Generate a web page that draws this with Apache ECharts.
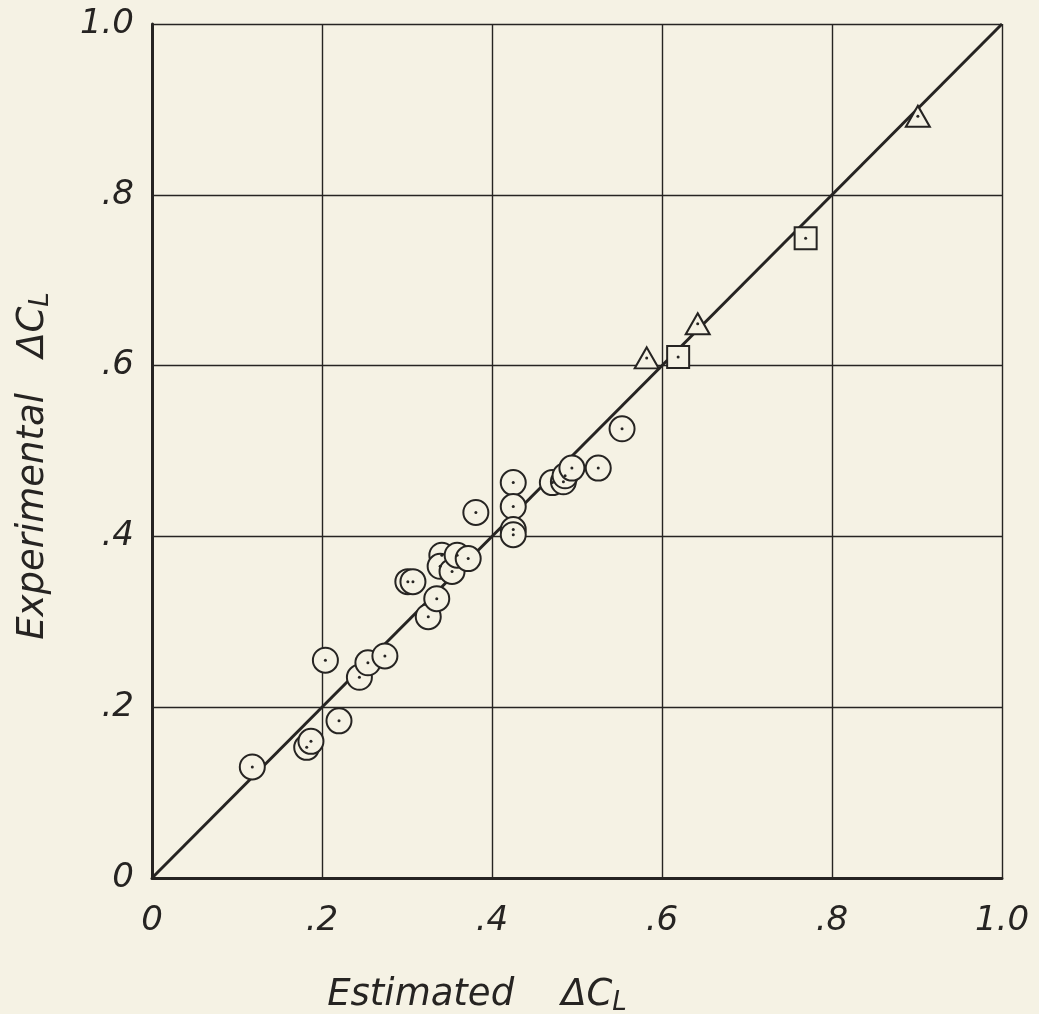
<!DOCTYPE html>
<html>
<head>
<meta charset="utf-8">
<script src="https://cdn.jsdelivr.net/npm/echarts@6/dist/echarts.min.js"></script>
<style>
  html, body { margin: 0; padding: 0; background: #f5f2e4; }
  #chart { width: 1039px; height: 1014px; }
</style>
</head>
<body>
<div id="chart"></div>
<script>
// tick values and their printed labels
const ticks = [0, 0.2, 0.4, 0.6, 0.8, 1.0]
const tickLabels = ['0', '.2', '.4', '.6', '.8', '1.0']

// circle points (estimated, experimental)
const circleX = [0.118, 0.182, 0.187, 0.220, 0.204, 0.244, 0.254, 0.274, 0.325, 0.335,
  0.301, 0.307, 0.341, 0.339, 0.353, 0.359, 0.372, 0.381, 0.425, 0.425,
  0.425, 0.425, 0.471, 0.484, 0.486, 0.494, 0.525, 0.553]
const circleY = [0.130, 0.153, 0.160, 0.184, 0.255, 0.235, 0.252, 0.260, 0.306, 0.327,
  0.347, 0.347, 0.378, 0.365, 0.359, 0.378, 0.374, 0.428, 0.463, 0.435,
  0.408, 0.402, 0.463, 0.464, 0.471, 0.480, 0.480, 0.526]

// square points
const squareX = [0.619, 0.769]
const squareY = [0.610, 0.749]

// triangle points
const triangleX = [0.582, 0.642, 0.901]
const triangleY = [0.609, 0.649, 0.892]

// line of perfect agreement
const lineX = [0, 1]
const lineY = [0, 1]

const bg = '#f5f2e4'
const ink = '#262422'

const pairs = (xs, ys) => xs.map((x, i) => [x, ys[i]])
const circles = pairs(circleX, circleY)
const squares = pairs(squareX, squareY)
const triangles = pairs(triangleX, triangleY)
const dots = circles.concat(squares, triangles)

const labelFont = {
  color: ink,
  fontFamily: 'DejaVu Sans',
  fontStyle: 'italic',
  fontSize: 34,
}
const nameRich = {
  sub: { fontFamily: 'DejaVu Sans', fontStyle: 'italic', fontSize: 26, color: ink, padding: [16, 0, 0, 0] },
}

const fmt = v => {
  const i = ticks.findIndex(t => Math.abs(t - v) < 1e-6)
  return i >= 0 ? tickLabels[i] : ''
}

const markerStyle = { color: bg, borderColor: ink, borderWidth: 2, opacity: 1 }

let mycharts = echarts.init(document.getElementById('chart'))
mycharts.setOption({
  backgroundColor: bg,
  animation: false,
  grid: {
    left: 152,
    right: 37,
    top: 24,
    bottom: 136,
    containLabel: false,
    outerBoundsMode: 'none',
  },
  xAxis: {
    type: 'value',
    min: 0,
    max: 1,
    interval: 0.2,
    name: 'Estimated    ΔC{sub|L}',
    nameLocation: 'middle',
    nameGap: 96,
    nameTextStyle: { ...labelFont, fontSize: 37, rich: nameRich, padding: [0, 200, 0, 0] },
    axisLine: { show: true, lineStyle: { color: ink, width: 3 } },
    axisTick: { show: false },
    splitLine: { show: true, lineStyle: { color: ink, width: 1.4 } },
    axisLabel: { ...labelFont, margin: 26, formatter: fmt },
  },
  yAxis: {
    type: 'value',
    min: 0,
    max: 1,
    interval: 0.2,
    name: 'Experimental   ΔC{sub|L}',
    nameLocation: 'middle',
    nameGap: 98,
    nameTextStyle: { ...labelFont, fontSize: 37, rich: nameRich, padding: [0, 30, 0, 0] },
    axisLine: { show: true, lineStyle: { color: ink, width: 3 } },
    axisTick: { show: false },
    splitLine: { show: true, lineStyle: { color: ink, width: 1.4 } },
    axisLabel: { ...labelFont, margin: 18, formatter: fmt },
  },
  series: [
    {
      type: 'line',
      data: pairs(lineX, lineY),
      symbol: 'none',
      lineStyle: { color: ink, width: 3 },
      z: 2,
    },
    {
      type: 'scatter',
      data: circles,
      symbol: 'circle',
      symbolSize: 25,
      itemStyle: markerStyle,
      z: 3,
    },
    {
      type: 'scatter',
      data: squares,
      symbol: 'rect',
      symbolSize: 22,
      itemStyle: markerStyle,
      z: 3,
    },
    {
      type: 'scatter',
      data: triangles,
      symbol: 'triangle',
      symbolSize: [24, 21],
      itemStyle: markerStyle,
      z: 3,
    },
    {
      //中心的小点
      type: 'scatter',
      data: dots,
      symbol: 'circle',
      symbolSize: 3,
      itemStyle: { color: ink, opacity: 1 },
      z: 4,
    },
  ],
})
</script>
</body>
</html>
